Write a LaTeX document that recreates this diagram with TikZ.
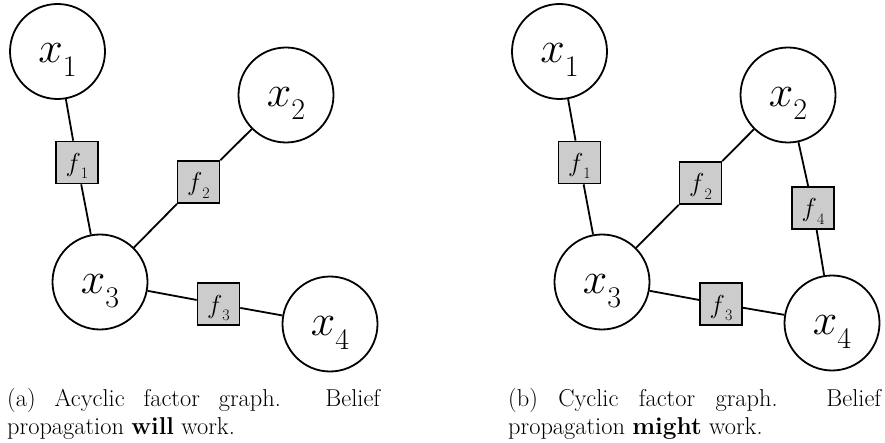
\RequirePackage{fix-cm}
\documentclass[tikz,border=0pt]{standalone}
\usepackage{fontspec}
\newcommand\vlab[1]{$x$\raisebox{-13.5pt}{\fontsize{30}{30}\selectfont #1}}
\newcommand\flab[1]{$f$\raisebox{-7.5pt}{\fontsize{16}{16}\selectfont #1}}
\begin{document}
\begin{tikzpicture}[x=1pt,y=-1pt,
  var/.style={circle,draw,line width=1.8pt,minimum size=95pt,inner sep=0pt,
    text height=23pt,text depth=0pt,font=\fontsize{44}{44}\selectfont},
  fac/.style={rectangle,draw,fill=gray!40,line width=1.7pt,minimum size=42pt,
    inner sep=0pt,text height=18pt,text depth=0pt,font=\fontsize{26}{26}\selectfont},
  edge/.style={line width=1.8pt},
  captext/.style={anchor=base west,inner sep=0pt,text width=373pt,align=justify,
    font=\fontsize{24.4}{28.5}\selectfont}]
\useasboundingbox (0,0) rectangle (885,443);
% left panel
\node[var] (ax1) at (57.5,51.5) {\vlab{1}};
\node[var] (ax2) at (286,95) {\vlab{2}};
\node[var] (ax3) at (100,282) {\vlab{3}};
\node[var] (ax4) at (330,324) {\vlab{4}};
\node[fac] (af1) at (77,162.5) {\flab{1}};
\node[fac] (af2) at (198.5,182) {\flab{2}};
\node[fac] (af3) at (218.5,304) {\flab{3}};
\draw[edge] (ax1) -- (af1);
\draw[edge] (af1) -- (ax3);
\draw[edge] (ax3) -- (af2);
\draw[edge] (af2) -- (ax2);
\draw[edge] (ax3) -- (af3);
\draw[edge] (af3) -- (ax4);
% right panel
\node[var] (bx1) at (559.5,51.5) {\vlab{1}};
\node[var] (bx2) at (788,95) {\vlab{2}};
\node[var] (bx3) at (602,282) {\vlab{3}};
\node[var] (bx4) at (832,323) {\vlab{4}};
\node[fac] (bf1) at (579.5,162.5) {\flab{1}};
\node[fac] (bf2) at (700.5,183) {\flab{2}};
\node[fac] (bf3) at (721,304) {\flab{3}};
\node[fac] (bf4) at (813,208) {\flab{4}};
\draw[edge] (bx1) -- (bf1);
\draw[edge] (bf1) -- (bx3);
\draw[edge] (bx3) -- (bf2);
\draw[edge] (bf2) -- (bx2);
\draw[edge] (bx3) -- (bf3);
\draw[edge] (bf3) -- (bx4);
\draw[edge] (bx2) -- (bf4);
\draw[edge] (bf4) -- (bx4);
% captions
\node[captext] (capa) at (7,406) {(a) Acyclic factor graph. Belief\linebreak propagation \textbf{will} work.};
\node[captext] (capb) at (508,406) {(b) Cyclic factor graph. Belief\linebreak propagation \textbf{might} work.};
\end{tikzpicture}
\end{document}
